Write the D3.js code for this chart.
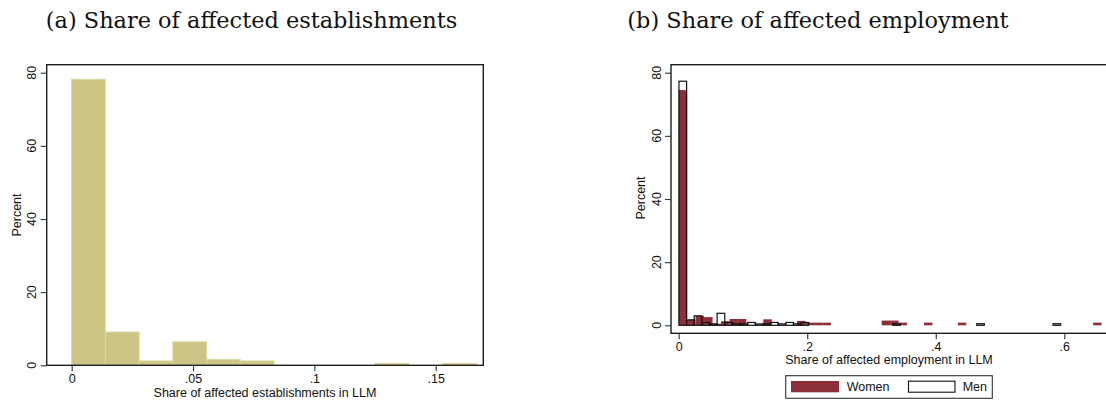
<!DOCTYPE html>
<html><head><meta charset="utf-8">
<script src="https://cdn.jsdelivr.net/npm/d3@7"></script>
<style>body{margin:0;background:#fff}svg{display:block}</style>
</head><body>
<svg id="c" width="1106" height="402"></svg>
<script>
// ---------- DATA ----------
const titleA = "(a) Share of affected establishments";
const titleB = "(b) Share of affected employment";
const xLabelA = "Share of affected establishments in LLM";
const xLabelB = "Share of affected employment in LLM";
const yLabel = "Percent";
const legendNames = ["Women", "Men"];

// Panel (a): 12 bins from 0 to ~0.1667
const estBinStart = 0;
const estBinWidth = 0.1667 / 12;
const estPercent = [78.2, 9.1, 1.2, 6.4, 1.6, 1.2, 0, 0, 0, 0.55, 0, 0.55];
const xTicksA = [0, 0.05, 0.1, 0.15];

// Panel (b): 50 bins each
const womenBinStart = 0;
const womenBinWidth = 0.01316;
const womenPercent = [
  74.5, 1.8, 3.0, 2.6, 0.5, 1.3, 2.0, 2.0, 0, 0,
  1.9, 0, 0, 0, 1.4, 0.85, 0.85, 0.85, 0, 0,
  0, 0, 0, 0, 1.5, 1.5, 0.85, 0, 0, 0.85,
  0, 0, 0, 0.85, 0, 0, 0, 0, 0, 0,
  0, 0, 0, 0, 0, 0, 0, 0, 0, 0.85
];
const menBinStart = 0.0004;
const menBinWidth = 0.01188;
const menPercent = [
  77.3, 1.7, 3.0, 0.9, 0.45, 3.8, 0.9, 0.45, 0.45, 0.9,
  0.45, 0.45, 0.9, 0.45, 0.9, 0.45, 0.9, 0, 0, 0,
  0, 0, 0, 0, 0, 0, 0, 0, 0.5, 0,
  0, 0, 0, 0, 0, 0, 0, 0, 0, 0.5,
  0, 0, 0, 0, 0, 0, 0, 0, 0, 0.5
];
const xTicksB = [0, 0.2, 0.4, 0.6];
const yTicks = [0, 20, 40, 60, 80];

// ---------- DRAW ----------
const svg = d3.select("#c");
const FONT = "'Liberation Sans', Arial, sans-serif";
const fmt = d => d === 0 ? "0" : String(d).replace(/^0/, "");
const C_EST = "#cdc586", C_EST_LINE = "#dcd7a4", C_WOMEN = "#8d2f39";

function binsOf(vals, start, width) {
  return vals.map((v, i) => ({x0: start + i * width, x1: start + (i + 1) * width, v}));
}

function panel(opt) {
  const g = svg.append("g");
  const x = d3.scaleLinear().domain(opt.xDom).range(opt.xRange);
  const y = d3.scaleLinear().domain([0, 80]).range(opt.yRange);
  const [fl, fr, ft, fb] = opt.frame;

  // bars
  opt.draw(g, x, y);

  // frame
  g.append("rect").attr("x", fl).attr("y", ft).attr("width", fr - fl).attr("height", fb - ft)
    .attr("fill", "none").attr("stroke", "#1e1e1e").attr("stroke-width", 1.4);

  // y axis
  const ya = g.append("g").attr("transform", `translate(${fl},0)`)
    .call(d3.axisLeft(y).tickValues(yTicks).tickSize(6).tickSizeOuter(0).tickPadding(0).tickFormat(""));
  ya.select(".domain").remove();
  ya.selectAll("line").attr("stroke", "#333").attr("stroke-width", 1.1);
  yTicks.forEach(t => {
    g.append("text").attr("transform", `translate(${fl - 10.5},${y(t)}) rotate(-90)`)
      .attr("text-anchor", "middle").attr("font-family", FONT).attr("font-size", 12.5)
      .attr("fill", "#111").text(t);
  });
  g.append("text").attr("transform", `translate(${fl - 26},${opt.yLabelY}) rotate(-90)`)
    .attr("text-anchor", "middle").attr("font-family", FONT).attr("font-size", 12.5)
    .attr("fill", "#111").text(yLabel);

  // x axis
  const xa = g.append("g").attr("transform", `translate(0,${fb})`)
    .call(d3.axisBottom(x).tickValues(opt.xTicks).tickSize(6).tickSizeOuter(0).tickPadding(3).tickFormat(fmt));
  xa.select(".domain").remove();
  xa.selectAll("line").attr("stroke", "#333").attr("stroke-width", 1.1);
  xa.selectAll("text").attr("font-family", FONT).attr("font-size", 12.5).attr("fill", "#111");
  g.append("text").attr("x", opt.xLabelX).attr("y", opt.xLabelY)
    .attr("text-anchor", "middle").attr("font-family", FONT).attr("font-size", 12.5)
    .attr("fill", "#111").text(opt.xLabel);
  return {x, y};
}

// Panel (a)
panel({
  xDom: [0, 0.15], xRange: [71.7, 435.7], yRange: [365.3, 72.7],
  frame: [46.7, 483.3, 64.7, 365.3], xTicks: xTicksA,
  xLabel: xLabelA, xLabelX: 265, xLabelY: 396.5, yLabelY: 215,
  draw: (g, x, y) => {
    g.selectAll("rect.est").data(binsOf(estPercent, estBinStart, estBinWidth).filter(d => d.v > 0))
      .join("rect").attr("class", "est")
      .attr("x", d => x(d.x0)).attr("width", d => x(d.x1) - x(d.x0))
      .attr("y", d => y(d.v)).attr("height", d => y(0) - y(d.v))
      .attr("fill", C_EST).attr("stroke", C_EST_LINE).attr("stroke-width", 1);
  }
});

// Panel (b)
panel({
  xDom: [0, 0.6], xRange: [678.7, 1064.3], yRange: [325.3, 72.7],
  frame: [671, 1108, 64.7, 333.3], xTicks: xTicksB,
  xLabel: xLabelB, xLabelX: 889, xLabelY: 364, yLabelY: 198,
  draw: (g, x, y) => {
    g.selectAll("rect.w").data(binsOf(womenPercent, womenBinStart, womenBinWidth).filter(d => d.v > 0))
      .join("rect").attr("class", "w")
      .attr("x", d => x(d.x0)).attr("width", d => x(d.x1) - x(d.x0))
      .attr("y", d => y(d.v)).attr("height", d => y(0) - y(d.v))
      .attr("fill", C_WOMEN);
    g.selectAll("rect.m").data(binsOf(menPercent, menBinStart, menBinWidth).filter(d => d.v > 0))
      .join("rect").attr("class", "m")
      .attr("x", d => x(d.x0)).attr("width", d => x(d.x1) - x(d.x0))
      .attr("y", d => y(d.v)).attr("height", d => y(0) - y(d.v))
      .attr("fill", "none").attr("stroke", "#111").attr("stroke-width", 1.2);
  }
});

// Legend
const lg = svg.append("g");
lg.append("rect").attr("x", 785.7).attr("y", 375.7).attr("width", 206.6).attr("height", 22.6)
  .attr("fill", "#fff").attr("stroke", "#333").attr("stroke-width", 1.1);
lg.append("rect").attr("x", 791).attr("y", 381).attr("width", 48).attr("height", 11.3).attr("fill", C_WOMEN);
lg.append("text").attr("x", 846.7).attr("y", 391.2).attr("font-family", FONT).attr("font-size", 12.5)
  .attr("fill", "#111").text(legendNames[0]);
lg.append("rect").attr("x", 908.5).attr("y", 381.2).attr("width", 46.5).attr("height", 11)
  .attr("fill", "none").attr("stroke", "#111").attr("stroke-width", 1.1);
lg.append("text").attr("x", 962.7).attr("y", 391.2).attr("font-family", FONT).attr("font-size", 12.5)
  .attr("fill", "#111").text(legendNames[1]);

// Titles (fit width)
const tA = svg.append("text").attr("x", 251.5).attr("y", 27.5).attr("text-anchor", "middle")
  .attr("font-family", "'DejaVu Serif', serif").attr("font-size", 18.5).attr("fill", "#111").text(titleA);
const wA = tA.node().getComputedTextLength();
const fs = 18.5 * 411.6 / wA;
tA.attr("font-size", fs);
svg.append("text").attr("x", 818).attr("y", 27.5).attr("text-anchor", "middle")
  .attr("font-family", "'DejaVu Serif', serif").attr("font-size", fs).attr("fill", "#111").text(titleB);
</script>
</body></html>
